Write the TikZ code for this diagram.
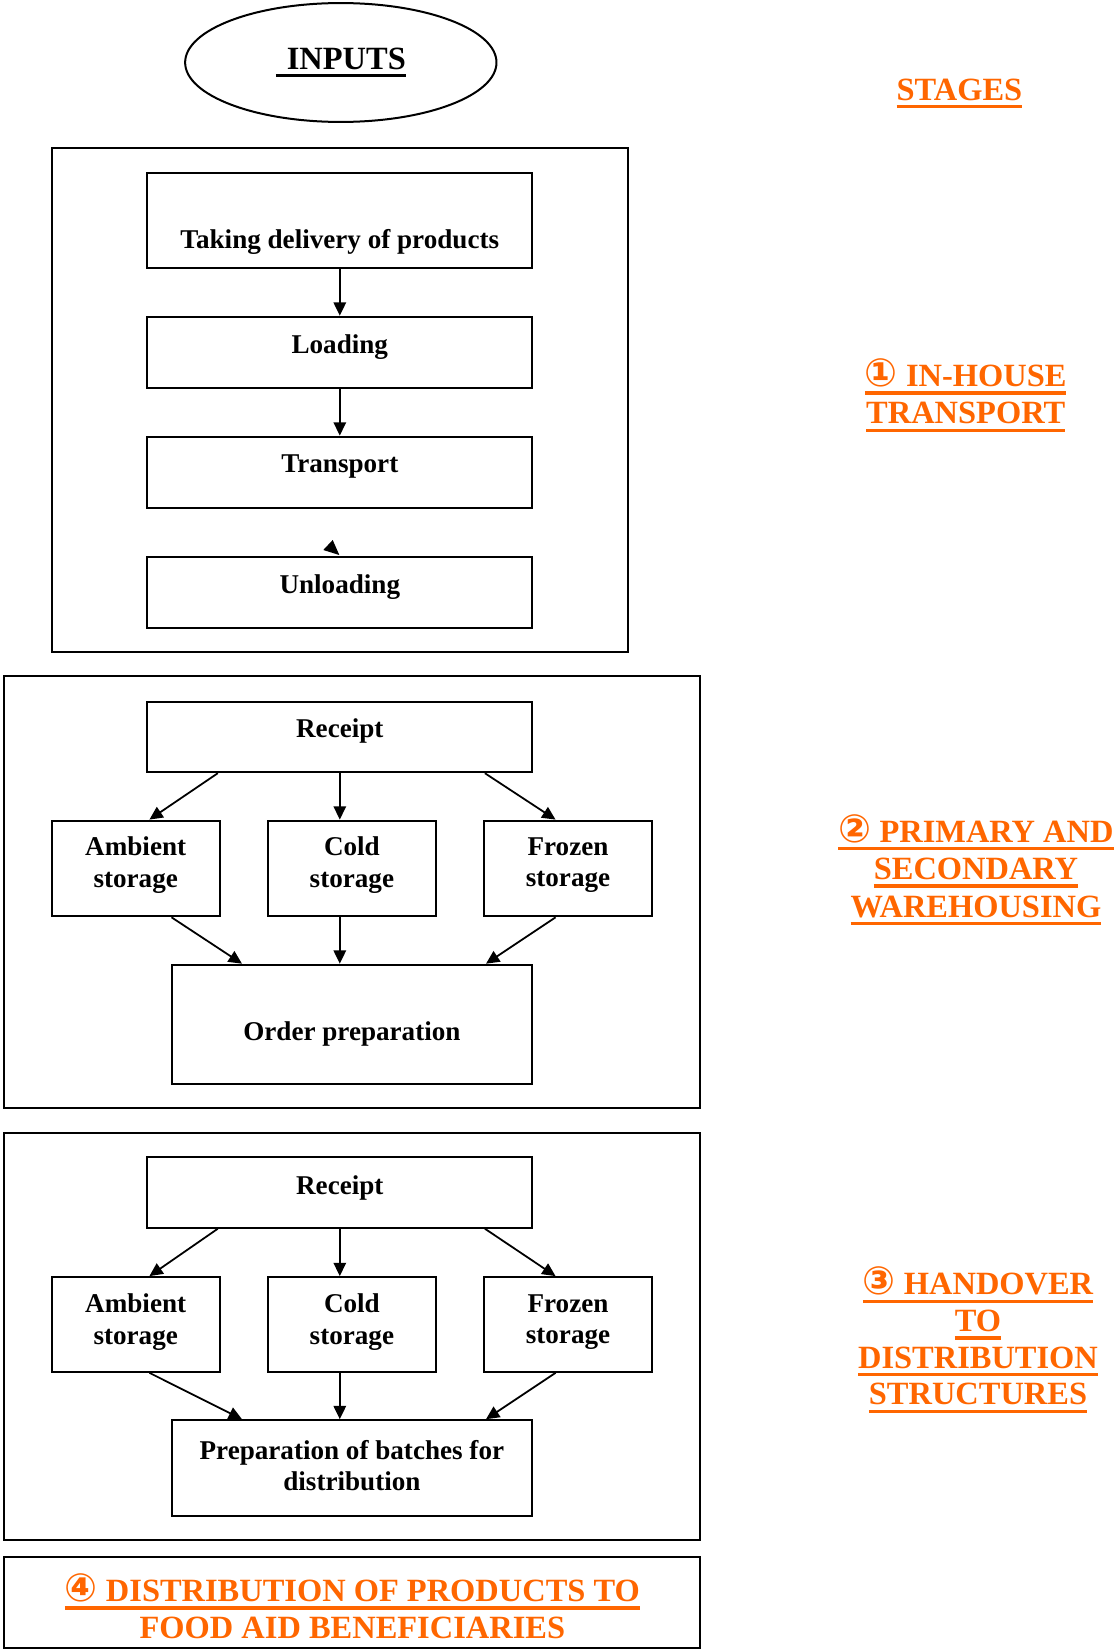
\documentclass[tikz,border=0pt]{standalone}
\usepackage{fontspec}
\setmainfont{Liberation Serif}
\newfontfamily\circfont[Scale=1.2]{DejaVu Sans}
\usetikzlibrary{shapes.geometric,fit,calc,arrows.meta}
\definecolor{stageorange}{HTML}{FF6600}

% underline a single line of text with a thick rule
\newcommand{\stageul}[1]{{\setbox0=\hbox{#1}\rlap{\rule[-3.6pt]{\wd0}{1.5pt}}\box0}}

\tikzset{
  box/.style={draw, line width=0.9pt, inner sep=0pt},
  lbl/.style={font=\fontsize{12.2}{14.2}\selectfont\bfseries, align=center, inner sep=0pt},
  stage/.style={font=\fontsize{14.6}{16.8}\selectfont\bfseries, text=stageorange, align=center, inner sep=0pt},
  arr/.style={line width=0.8pt, -{Triangle[length=6pt,width=5.6pt]}}
}

\begin{document}
\begin{tikzpicture}[x=0.45pt,y=-0.45pt]
\useasboundingbox (0,0) rectangle (1113,1650);

% ---- inputs ----
\node[ellipse, draw, line width=0.9pt, minimum width=140.1pt, minimum height=53.5pt,
      inner sep=0pt, font=\fontsize{14.6}{17}\selectfont\bfseries] (inputs) at (340.8,62.5) {\stageul{\hspace{5pt}INPUTS}};

% ---- stage 1: in-house transport ----
\node[box, fit={(51.5,148.3) (628,652.2)}] (s1) {};
\node[box, fit={(147.3,172.5) (532.3,268.3)}] (take) {};
\node[box, fit={(147.3,316.7) (532.3,388.2)}] (load) {};
\node[box, fit={(147.3,436.6) (532.3,508.1)}] (trans) {};
\node[box, fit={(147.3,556.5) (532.3,628)}] (unload) {};
\node[lbl] (taket) at (339.8,241.8) {Taking delivery of products};
\node[lbl] (loadt) at (339.8,347) {Loading};
\node[lbl] (transt) at (339.8,467) {Transport};
\node[lbl] (unloadt) at (339.8,586.9) {Unloading};
\draw[arr] (take.south) -- (load.north);
\draw[arr] (load.south) -- (trans.north);
\fill ($(unload.north)+(-7.1,-15.5)$) -- ($(unload.north)+(-16.5,-5.5)$) -- ($(unload.north)+(-0.5,-0.5)$) -- cycle;

% ---- stage 2: warehousing ----
\node[box, fit={(4.2,676.4) (699.6,1107.8)}] (s2) {};
\node[box, fit={(147.3,701.7) (532.3,772.2)}] (rec2) {};
\node[box, fit={(51.5,820.6) (219.9,916.3)}] (amb2) {};
\node[box, fit={(268.3,820.6) (435.5,916.3)}] (cold2) {};
\node[box, fit={(483.9,820.6) (652.2,916.3)}] (froz2) {};
\node[box, fit={(171.5,964.7) (532.3,1083.6)}] (ord2) {};
\node[lbl] (rec2t) at (339.8,731) {Receipt};
\node[lbl] (amb2t) at (135.7,865) {Ambient\\storage};
\node[lbl] (cold2t) at (351.9,865) {Cold\\storage};
\node[lbl] (froz2t) at (568,865) {Frozen\\storage};
\node[lbl] (ord2t) at (351.9,1034) {Order preparation};
\draw[arr] ($(rec2.south west)+(71.5,0)$) -- ($(amb2.north)+(13.7,0)$);
\draw[arr] (rec2.south) -- (rec2.south |- cold2.north);
\draw[arr] ($(rec2.south east)+(-48.4,0)$) -- ($(froz2.north)+(-12.5,0)$);
\draw[arr] ($(amb2.south)+(35.8,0)$) -- ($(ord2.north west)+(71.5,0)$);
\draw[arr] ($(cold2.south)+(-12.1,0)$) -- ($(ord2.north)+(-12.1,0)$);
\draw[arr] ($(froz2.south)+(-12.5,0)$) -- ($(ord2.north east)+(-47.3,0)$);

% ---- stage 3: handover ----
\node[box, fit={(4.2,1133) (699.6,1540.1)}] (s3) {};
\node[box, fit={(147.3,1157.2) (532.3,1227.7)}] (rec3) {};
\node[box, fit={(51.5,1277.1) (219.9,1371.8)}] (amb3) {};
\node[box, fit={(268.3,1277.1) (435.5,1371.8)}] (cold3) {};
\node[box, fit={(483.9,1277.1) (652.2,1371.8)}] (froz3) {};
\node[box, fit={(171.5,1420.2) (532.3,1515.9)}] (prep3) {};
\node[lbl] (rec3t) at (339.8,1187.6) {Receipt};
\node[lbl] (amb3t) at (135.7,1322) {Ambient\\storage};
\node[lbl] (cold3t) at (351.9,1322) {Cold\\storage};
\node[lbl] (froz3t) at (568,1322) {Frozen\\storage};
\node[lbl] (prep3t) at (351.9,1465.5) {Preparation of batches for\\distribution};
\draw[arr] ($(rec3.south west)+(71.5,0)$) -- ($(amb3.north)+(13.7,0)$);
\draw[arr] (rec3.south) -- (rec3.south |- cold3.north);
\draw[arr] ($(rec3.south east)+(-48.4,0)$) -- ($(froz3.north)+(-12.5,0)$);
\draw[arr] ($(amb3.south)+(13.7,0)$) -- ($(prep3.north west)+(71.5,0)$);
\draw[arr] ($(cold3.south)+(-12.1,0)$) -- ($(prep3.north)+(-12.1,0)$);
\draw[arr] ($(froz3.south)+(-12.5,0)$) -- ($(prep3.north east)+(-47.3,0)$);

% ---- stage 4: distribution ----
\node[box, fit={(4.2,1557) (699.6,1648)}] (s4) {};
\node[stage] (s4t) at (352.4,1606.5) {\stageul{{\circfont ④} DISTRIBUTION OF PRODUCTS TO}\\FOOD AID BENEFICIARIES};

% ---- stage titles ----
\node[stage] (stages) at (959.4,93.4) {\stageul{STAGES}};
\node[stage] (s1t) at (965.7,395.4) {\stageul{{\circfont ①} IN-HOUSE}\\\stageul{TRANSPORT}};
\node[stage] (s2t) at (976,869.8) {\stageul{{\circfont ②} PRIMARY AND}\\\stageul{SECONDARY}\\\stageul{WAREHOUSING}};
\node[stage, font=\fontsize{14.6}{16.5}\selectfont\bfseries] (s3t) at (978,1340) {\stageul{{\circfont ③} HANDOVER}\\\stageul{TO}\\\stageul{DISTRIBUTION}\\\stageul{STRUCTURES}};
\end{tikzpicture}
\end{document}
